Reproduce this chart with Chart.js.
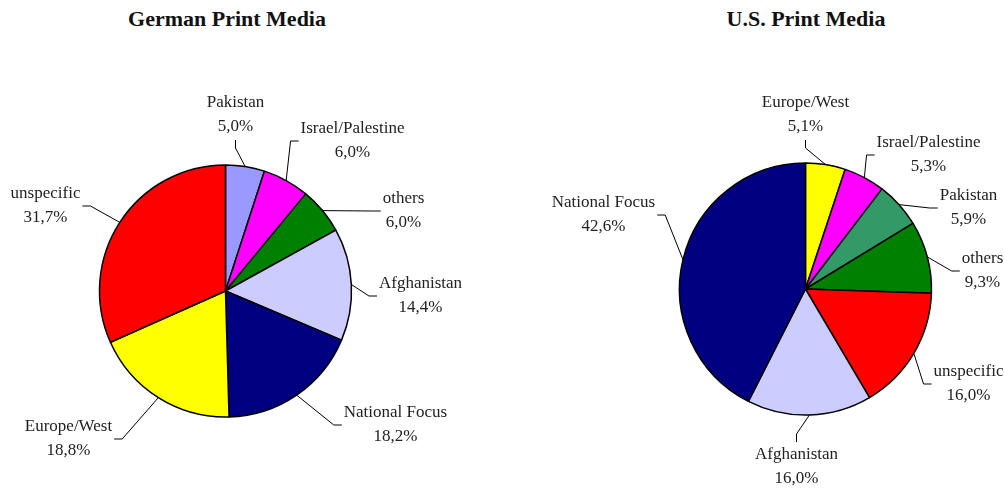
<!DOCTYPE html>
<html>
<head>
<meta charset="utf-8">
<script src="https://cdn.jsdelivr.net/npm/chart.js@4.4.1/dist/chart.umd.min.js"></script>
<style>
  body { margin: 0; background: #fff; }
  #wrap { position: relative; width: 1004px; height: 488px; overflow: hidden; }
  .title {
    position: absolute; top: 6px; width: 300px; text-align: center;
    font: bold 22px "Liberation Serif", serif; color: #111;
  }
  .box { position: absolute; top: 0; width: 502px; height: 488px; }
</style>
</head>
<body>
<div id="wrap">
  <div class="title" style="left:77px">German Print Media</div>
  <div class="title" style="left:656px">U.S. Print Media</div>
  <div class="box" style="left:0"><canvas id="germanChart"></canvas></div>
  <div class="box" style="left:502px"><canvas id="usChart"></canvas></div>
</div>
<script>
// German print media, clockwise from 12 o'clock
const germanCategories = ["Pakistan", "Israel/Palestine", "others", "Afghanistan", "National Focus", "Europe/West", "unspecific"];
const germanShares = [5.0, 6.0, 6.0, 14.4, 18.2, 18.8, 31.7];

// U.S. print media, clockwise from 12 o'clock
const usCategories = ["Europe/West", "Israel/Palestine", "Pakistan", "others", "unspecific", "Afghanistan", "National Focus"];
const usShares = [5.1, 5.3, 5.9, 9.3, 16.0, 16.0, 42.6];

const sliceColors = {
  "Pakistan": "#9999FF",
  "Israel/Palestine": "#FF00FF",
  "others": "#008000",
  "Afghanistan": "#CCCCFF",
  "National Focus": "#000080",
  "Europe/West": "#FFFF00",
  "unspecific": "#FF0000",
};
const usPakistanColor = "#339966";

// where each label's text block sits, relative to the pie centre (layout only)
const germanLabelSpots = [[10, -176], [127, -150], [178, -80], [195, 5], [170, 134], [-157, 148], [-180, -85]];
const usLabelSpots = [[0, -174], [123, -134], [163, -81], [177, -18], [163, 95], [-9, 178], [-202, -74]];

const labelFont = '17px "Liberation Serif", serif';
const lineGap = 24;

function fmtShare(v) {
  return v.toFixed(1).replace(".", ",") + "%";
}

const leaderLabels = {
  id: "leaderLabels",
  afterDatasetsDraw(chart, args, opts) {
    const ctx = chart.ctx;
    const meta = chart.getDatasetMeta(0);
    const cats = chart.data.labels;
    const values = chart.data.datasets[0].data;
    ctx.save();
    ctx.font = labelFont;
    ctx.textAlign = "center";
    ctx.textBaseline = "middle";
    meta.data.forEach((arc, i) => {
      const p = arc.getProps(["x", "y", "startAngle", "endAngle", "outerRadius"], true);
      const mid = (p.startAngle + p.endAngle) / 2;
      const ex = p.x + p.outerRadius * Math.cos(mid);
      const ey = p.y + p.outerRadius * Math.sin(mid);
      const spot = opts.spots[i];
      const cx = p.x + spot[0];
      const cy = p.y + spot[1];
      const line1 = cats[i];
      const line2 = fmtShare(values[i]);
      const w = Math.max(ctx.measureText(line1).width, ctx.measureText(line2).width);
      const h = lineGap * 2;
      const stub = 8;
      let ax, ay, sx, sy;
      if (ex > cx - w / 2 && ex < cx + w / 2) {
        ax = cx;
        if (ey > cy) { ay = cy + h / 2 + 1; sy = ay + stub; }
        else { ay = cy - h / 2 - 1; sy = ay - stub; }
        sx = ax;
      } else {
        ay = cy;
        if (ex > cx) { ax = cx + w / 2 + 2; sx = ax + stub; }
        else { ax = cx - w / 2 - 2; sx = ax - stub; }
        sy = ay;
      }
      ctx.strokeStyle = "#000";
      ctx.lineWidth = 1;
      ctx.beginPath();
      ctx.moveTo(ax, ay);
      ctx.lineTo(sx, sy);
      ctx.lineTo(ex, ey);
      ctx.stroke();
      ctx.fillStyle = "#222";
      ctx.fillText(line1, cx, cy - lineGap / 2);
      ctx.fillText(line2, cx, cy + lineGap / 2);
    });
    ctx.restore();
  },
};

function makePie(id, cats, shares, colors, spots, pad) {
  return new Chart(document.getElementById(id), {
    type: "pie",
    data: {
      labels: cats,
      datasets: [{
        data: shares,
        backgroundColor: colors,
        borderColor: "#000",
        borderWidth: 1.5,
        hoverOffset: 0,
      }],
    },
    options: {
      responsive: true,
      maintainAspectRatio: false,
      animation: false,
      radius: 126,
      layout: { padding: pad },
      events: [],
      plugins: {
        legend: { display: false },
        tooltip: { enabled: false },
        leaderLabels: { spots: spots },
      },
    },
    plugins: [leaderLabels],
  });
}

makePie(
  "germanChart",
  germanCategories,
  germanShares,
  germanCategories.map((c) => sliceColors[c]),
  germanLabelSpots,
  { left: 98.5, right: 149.5, top: 164, bottom: 70 }
);

makePie(
  "usChart",
  usCategories,
  usShares,
  usCategories.map((c) => (c === "Pakistan" ? usPakistanColor : sliceColors[c])),
  usLabelSpots,
  { left: 176.5, right: 71.5, top: 162, bottom: 72 }
);
</script>
</body>
</html>
